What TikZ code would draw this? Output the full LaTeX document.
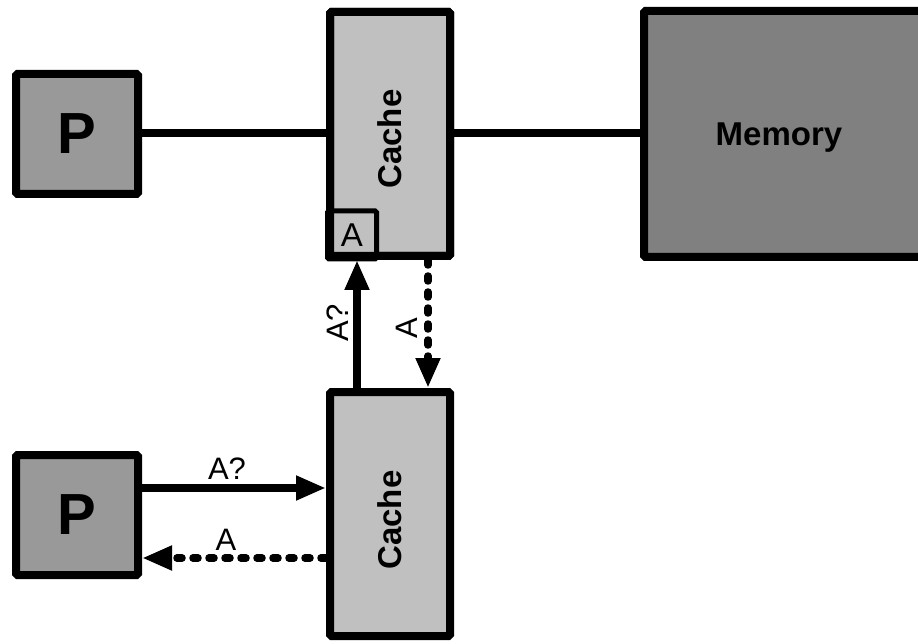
\documentclass[tikz,border=0pt]{standalone}
\usepackage{fontspec}
\setmainfont{Liberation Sans}
\usetikzlibrary{arrows.meta}
\definecolor{pgray}{HTML}{999999}
\definecolor{cgray}{HTML}{C0C0C0}
\definecolor{mgray}{HTML}{808080}
\begin{document}
\begin{tikzpicture}[x=1pt,y=-1pt,
  box/.style={draw, line width=8pt, rounded corners=1.5pt, inner sep=0pt},
  pbox/.style={box, fill=pgray, minimum width=122pt, minimum height=120pt, font=\bfseries\fontsize{58}{58}\selectfont},
  cshape/.style={box, minimum width=120pt, minimum height=244pt},
  cbox/.style={cshape, fill=cgray},
  ctext/.style={rotate=90, font=\bfseries\fontsize{33}{33}\selectfont},
  conn/.style={line width=7.5pt},
  arr/.style={conn, -{Triangle[length=30pt,width=23pt]}},
  dsh/.style={arr, dash pattern=on 5pt off 11pt, line cap=round},
  lbl/.style={font=\fontsize{31}{31}\selectfont, inner sep=0pt}]
\clip (0,0) rectangle (918,644);
\fill[white] (0,0) rectangle (918,644);
% boxes
\node[pbox] (P1) at (77,134) {P};
\node[pbox] (P2) at (77,515) {P};
\node[cbox] (cT) at (390,134) {};
\node[ctext] (cTt) at (390,139) {Cache};
\node[box, line width=5pt, fill=cgray, minimum width=49pt, minimum height=48pt, font=\fontsize{33}{33}\selectfont] (Abox) at (352,235) {A};
\node[cshape] (cTb) at (390,134) {};
\node[cbox] (cB) at (390,514) {};
\node[ctext] (cBt) at (390,520) {Cache};
\node[box, fill=mgray, minimum width=284pt, minimum height=246pt] (mem) at (786,134) {};
\node[font=\bfseries\fontsize{33}{33}\selectfont] (memt) at (779,138) {Memory};
% top connections
\draw[conn] (P1.east |- 0,133) -- (cT.west |- 0,133);
\draw[conn] (cT.east |- 0,133) -- (mem.west |- 0,133);
% vertical arrows
\draw[arr] (cB.north -| 357,0) -- (cT.south -| 357,0);
\draw[dsh] (cT.south -| 428,0) -- (cB.north -| 428,0);
\node[lbl, rotate=90] (l1) at (338,323) {A?};
\node[lbl, rotate=90] (l2) at (407,328) {A};
% horizontal arrows
\draw[arr] (P2.east |- 0,488) -- (cB.west |- 0,488);
\draw[dsh] (cB.west |- 0,558) -- (P2.east |- 0,558);
\node[lbl] (l3) at (227,469) {A?};
\node[lbl] (l4) at (226,540) {A};
\end{tikzpicture}
\end{document}
